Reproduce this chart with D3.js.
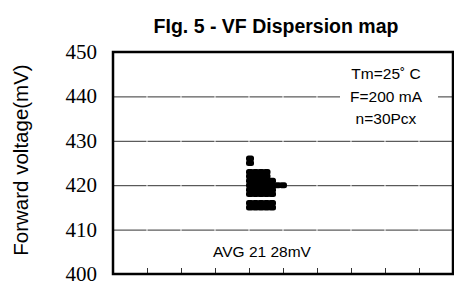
<!DOCTYPE html>
<meta charset="utf-8">
<style>
body {
    margin: 0px;
    background: white;
    overflow: hidden;
}
text {
    font-family: Arial, "Liberation Sans", sans-serif;
    fill: black;
}
</style>
<body>
<script src="https://d3js.org/d3.v7.min.js"></script>
<script>
// measured forward voltages (mV) and how many parts sit at each value
var vfValues = [426, 425, 423, 422, 421, 420, 419, 418, 416, 415];
var vfCounts = [1, 1, 4, 4, 5, 7, 5, 5, 5, 5];
var yTicks = [400, 410, 420, 430, 440, 450];
var gridValues = [410, 420, 430, 440];
var xColumn = 4;   // position of the point column on the 0..10 x axis
var legendLines = ["Tm=25\u02da C", "F=200 mA", "n=30Pcx"];

var width = 454,
    height = 284;

var x = d3.scaleLinear().domain([0, 10]).range([113, 453]);
var y = d3.scaleLinear().domain([400, 450]).range([274, 52]);

var svg = d3.select("body").append("svg")
    .attr("width", width)
    .attr("height", height);

// title
svg.append("text")
    .attr("x", 276)
    .attr("y", 33)
    .attr("text-anchor", "middle")
    .style("font-weight", "bold")
    .style("font-size", "19.5px")
    .text("FIg. 5 - VF Dispersion map");

// gridlines, broken at every column
var segs = [];
gridValues.forEach(function(v) {
    d3.range(10).forEach(function(k) {
        segs.push({v: v, k: k});
    });
});
svg.append("g").selectAll("line")
    .data(segs)
    .enter().append("line")
    .attr("x1", function(d) { return x(d.k) + 0.5; })
    .attr("x2", function(d) { return x(d.k + 1) - 0.5; })
    .attr("y1", function(d) { return y(d.v) + 0.5; })
    .attr("y2", function(d) { return y(d.v) + 0.5; })
    .attr("stroke", "#333")
    .attr("stroke-width", 1);

// bottom inner ticks
svg.append("g").selectAll("line")
    .data(d3.range(1, 10))
    .enter().append("line")
    .attr("x1", function(d) { return x(d) + 0.5; })
    .attr("x2", function(d) { return x(d) + 0.5; })
    .attr("y1", y(400))
    .attr("y2", y(400) - 6)
    .attr("stroke", "#333")
    .attr("stroke-width", 1);

// legend box
svg.append("rect")
    .attr("x", 340).attr("y", 60)
    .attr("width", 98).attr("height", 66)
    .attr("fill", "white");
svg.append("g").selectAll("text")
    .data(legendLines)
    .enter().append("text")
    .attr("x", 386)
    .attr("y", function(d, i) { return 79 + i * 22.5; })
    .attr("text-anchor", "middle")
    .style("font-size", "15.5px")
    .text(function(d) { return d; });

// points
var pts = [];
vfValues.forEach(function(v, i) {
    d3.range(vfCounts[i]).forEach(function(j) {
        pts.push({v: v, j: j});
    });
});
svg.append("g").selectAll("rect")
    .data(pts)
    .enter().append("rect")
    .attr("x", function(d) { return x(xColumn) - 3 + d.j * 5.5; })
    .attr("y", function(d) { return y(d.v) - 3; })
    .attr("width", 8)
    .attr("height", 6)
    .attr("rx", 2.5)
    .attr("ry", 2.5)
    .attr("fill", "black");

// average note
svg.append("text")
    .attr("x", 262)
    .attr("y", 257)
    .attr("text-anchor", "middle")
    .style("font-size", "15.5px")
    .text("AVG 21 28mV");

// frame
svg.append("rect")
    .attr("x", x(0))
    .attr("y", y(450))
    .attr("width", x(10) - x(0))
    .attr("height", y(400) - y(450))
    .attr("fill", "none")
    .attr("stroke", "black")
    .attr("stroke-width", 2.5);

// y tick labels
svg.append("g").selectAll("text")
    .data(yTicks)
    .enter().append("text")
    .attr("x", 97)
    .attr("y", function(d) { return y(d) + 7; })
    .attr("text-anchor", "end")
    .style("font-family", "'Liberation Serif', 'DejaVu Serif', serif")
    .style("font-size", "21px")
    .text(function(d) { return d; });

// y axis title
svg.append("text")
    .attr("transform", "translate(28,160) rotate(-90)")
    .attr("text-anchor", "middle")
    .style("font-size", "20.5px")
    .text("Forward voltage(mV)");
</script>
</body>
</html>
